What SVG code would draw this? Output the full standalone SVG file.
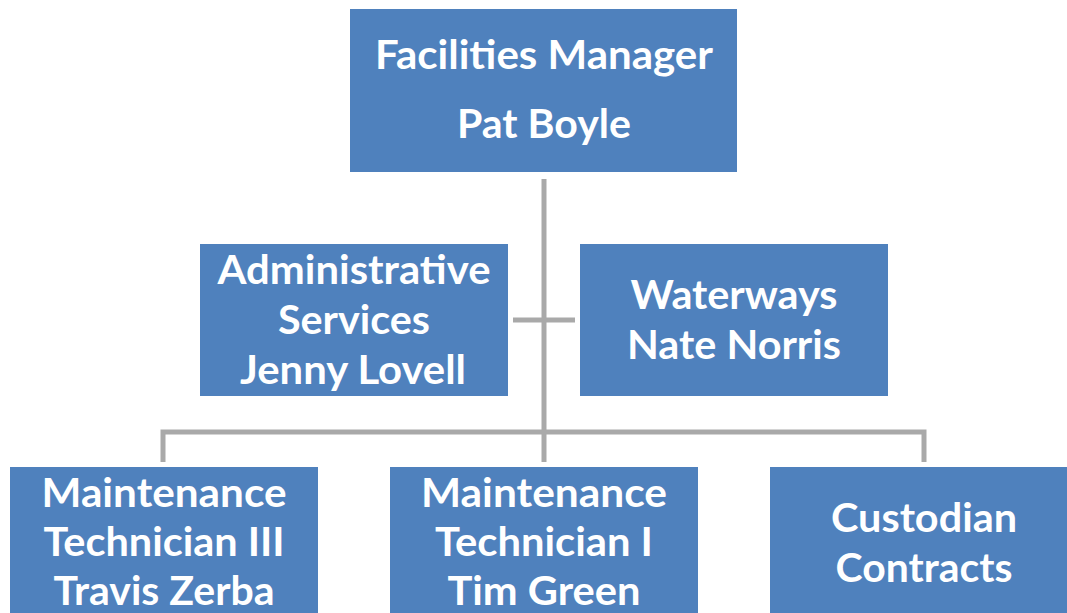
<svg xmlns="http://www.w3.org/2000/svg" width="1067" height="613" viewBox="0 0 1067 613">
<style>
.box{fill:#4F81BD;}
.t{font-family:Lato,"Liberation Sans",sans-serif;font-weight:bold;font-size:40px;fill:#fff;text-anchor:middle;}
.c{stroke:#A9A9A9;stroke-width:5;fill:none;}
</style>
<rect width="1067" height="613" fill="#fff"/>
<g id="connectors">
<path class="c" d="M544 179 V462 M513 320 H575 M163 462 V432 H924 V462"/>
</g>
<g id="n-manager">
<rect class="box" x="350" y="9" width="387" height="163"/>
<text class="t" x="544" y="69" textLength="338" lengthAdjust="spacingAndGlyphs">Facilities Manager</text>
<text class="t" x="544" y="138" textLength="174" lengthAdjust="spacingAndGlyphs">Pat Boyle</text>
</g>
<g id="n-admin">
<rect class="box" x="200" y="244" width="308" height="152"/>
<text class="t" x="354" y="284" textLength="273" lengthAdjust="spacingAndGlyphs">Administrative</text>
<text class="t" x="354" y="334" textLength="152" lengthAdjust="spacingAndGlyphs">Services</text>
<text class="t" x="353" y="384" textLength="226" lengthAdjust="spacingAndGlyphs">Jenny Lovell</text>
</g>
<g id="n-waterways">
<rect class="box" x="580" y="244" width="308" height="152"/>
<text class="t" x="734" y="309" textLength="207" lengthAdjust="spacingAndGlyphs">Waterways</text>
<text class="t" x="734" y="359" textLength="214" lengthAdjust="spacingAndGlyphs">Nate Norris</text>
</g>
<g id="n-tech3">
<rect class="box" x="10" y="467" width="308" height="160"/>
<text class="t" x="164" y="507" textLength="245" lengthAdjust="spacingAndGlyphs">Maintenance</text>
<text class="t" x="164" y="556" textLength="241" lengthAdjust="spacingAndGlyphs">Technician III</text>
<text class="t" x="164" y="605" textLength="221" lengthAdjust="spacingAndGlyphs">Travis Zerba</text>
</g>
<g id="n-tech1">
<rect class="box" x="390" y="467" width="308" height="160"/>
<text class="t" x="544" y="507" textLength="246" lengthAdjust="spacingAndGlyphs">Maintenance</text>
<text class="t" x="544" y="556" textLength="218" lengthAdjust="spacingAndGlyphs">Technician I</text>
<text class="t" x="544" y="605" textLength="193" lengthAdjust="spacingAndGlyphs">Tim Green</text>
</g>
<g id="n-custodian">
<rect class="box" x="770" y="467" width="308" height="160"/>
<text class="t" x="924" y="532" textLength="186" lengthAdjust="spacingAndGlyphs">Custodian</text>
<text class="t" x="924" y="582" textLength="177" lengthAdjust="spacingAndGlyphs">Contracts</text>
</g>
</svg>
